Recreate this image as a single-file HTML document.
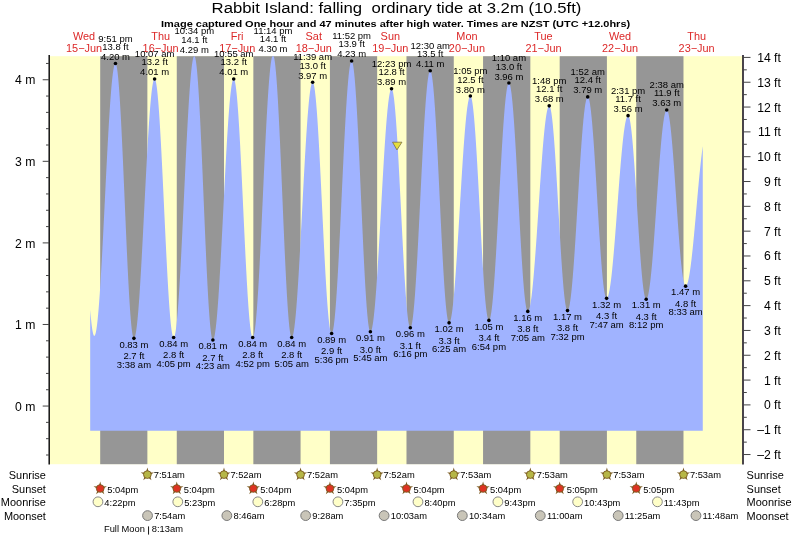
<!DOCTYPE html><html><head><meta charset="utf-8"><style>html,body{margin:0;padding:0;background:#fff;}svg{display:block;will-change:transform;}text{font-family:"Liberation Sans",sans-serif;}</style></head><body>
<svg width="793" height="537" viewBox="0 0 793 537">
<rect x="0" y="0" width="793" height="537" fill="#fff"/>
<rect x="49.2" y="56.2" width="693.8" height="408.0" fill="#ffffc8"/>
<rect x="100.20" y="56.2" width="47.17" height="408.0" fill="#969696"/>
<rect x="176.77" y="56.2" width="47.22" height="408.0" fill="#969696"/>
<rect x="253.35" y="56.2" width="47.22" height="408.0" fill="#969696"/>
<rect x="329.92" y="56.2" width="47.22" height="408.0" fill="#969696"/>
<rect x="406.49" y="56.2" width="47.27" height="408.0" fill="#969696"/>
<rect x="483.06" y="56.2" width="47.27" height="408.0" fill="#969696"/>
<rect x="559.69" y="56.2" width="47.22" height="408.0" fill="#969696"/>
<rect x="636.26" y="56.2" width="47.22" height="408.0" fill="#969696"/>
<polygon fill="#a0b3ff" points="90.19,430.8 90.19,309.76 90.46,312.94 90.73,315.92 90.99,318.72 91.26,321.32 91.52,323.72 91.79,325.91 92.05,327.89 92.32,329.66 92.59,331.21 92.85,332.55 93.12,333.66 93.38,334.55 93.65,335.22 93.92,335.66 94.18,335.87 94.45,335.86 94.71,335.64 94.98,335.20 95.25,334.55 95.51,333.70 95.78,332.63 96.04,331.36 96.31,329.88 96.57,328.19 96.84,326.31 97.11,324.23 97.37,321.96 97.64,319.50 97.90,316.85 98.17,314.02 98.44,311.00 98.70,307.82 98.97,304.47 99.23,300.95 99.50,297.28 99.77,293.45 100.03,289.48 100.30,285.37 100.56,281.12 100.83,276.75 101.09,272.26 101.36,267.66 101.63,262.95 101.89,258.14 102.16,253.24 102.42,248.25 102.69,243.19 102.96,238.06 103.22,232.88 103.49,227.64 103.75,222.36 104.02,217.04 104.29,211.69 104.55,206.33 104.82,200.96 105.08,195.58 105.35,190.21 105.61,184.86 105.88,179.52 106.15,174.22 106.41,168.96 106.68,163.75 106.94,158.59 107.21,153.50 107.48,148.48 107.74,143.54 108.01,138.68 108.27,133.92 108.54,129.27 108.80,124.72 109.07,120.29 109.34,115.98 109.60,111.81 109.87,107.77 110.13,103.87 110.40,100.12 110.67,96.53 110.93,93.10 111.20,89.83 111.46,86.74 111.73,83.82 112.00,81.08 112.26,78.53 112.53,76.16 112.79,73.99 113.06,72.01 113.32,70.24 113.59,68.66 113.86,67.29 114.12,66.12 114.39,65.16 114.65,64.41 114.92,63.88 115.19,63.55 115.45,63.44 115.72,63.56 115.98,63.98 116.25,64.67 116.52,65.64 116.78,66.89 117.05,68.41 117.31,70.20 117.58,72.26 117.84,74.59 118.11,77.17 118.38,80.01 118.64,83.09 118.91,86.42 119.17,89.98 119.44,93.77 119.71,97.77 119.97,101.99 120.24,106.41 120.50,111.03 120.77,115.83 121.04,120.80 121.30,125.94 121.57,131.23 121.83,136.66 122.10,142.23 122.36,147.91 122.63,153.71 122.90,159.60 123.16,165.57 123.43,171.62 123.69,177.73 123.96,183.88 124.23,190.07 124.49,196.29 124.76,202.51 125.02,208.72 125.29,214.93 125.56,221.10 125.82,227.23 126.09,233.31 126.35,239.32 126.62,245.25 126.88,251.10 127.15,256.83 127.42,262.46 127.68,267.96 127.95,273.32 128.21,278.53 128.48,283.58 128.75,288.47 129.01,293.17 129.28,297.69 129.54,302.00 129.81,306.11 130.07,310.01 130.34,313.68 130.61,317.12 130.87,320.32 131.14,323.28 131.40,325.98 131.67,328.43 131.94,330.62 132.20,332.54 132.47,334.20 132.73,335.58 133.00,336.68 133.27,337.51 133.53,338.05 133.80,338.32 134.06,338.31 134.33,338.09 134.59,337.65 134.86,337.00 135.13,336.15 135.39,335.09 135.66,333.82 135.92,332.35 136.19,330.67 136.46,328.80 136.72,326.73 136.99,324.47 137.25,322.02 137.52,319.38 137.79,316.56 138.05,313.57 138.32,310.41 138.58,307.08 138.85,303.59 139.11,299.94 139.38,296.15 139.65,292.22 139.91,288.14 140.18,283.94 140.44,279.62 140.71,275.18 140.98,270.63 141.24,265.98 141.51,261.23 141.77,256.41 142.04,251.50 142.31,246.52 142.57,241.48 142.84,236.39 143.10,231.25 143.37,226.08 143.63,220.88 143.90,215.65 144.17,210.42 144.43,205.18 144.70,199.95 144.96,194.73 145.23,189.54 145.50,184.38 145.76,179.25 146.03,174.18 146.29,169.16 146.56,164.20 146.83,159.32 147.09,154.51 147.36,149.80 147.62,145.18 147.89,140.67 148.15,136.26 148.42,131.98 148.69,127.82 148.95,123.79 149.22,119.90 149.48,116.15 149.75,112.55 150.02,109.11 150.28,105.84 150.55,102.73 150.81,99.79 151.08,97.03 151.34,94.46 151.61,92.07 151.88,89.87 152.14,87.86 152.41,86.05 152.67,84.44 152.94,83.03 153.21,81.83 153.47,80.83 153.74,80.04 154.00,79.46 154.27,79.10 154.54,78.94 154.80,79.01 155.07,79.32 155.33,79.88 155.60,80.69 155.86,81.74 156.13,83.04 156.40,84.58 156.66,86.36 156.93,88.37 157.19,90.61 157.46,93.08 157.73,95.77 157.99,98.67 158.26,101.79 158.52,105.11 158.79,108.63 159.06,112.35 159.32,116.24 159.59,120.32 159.85,124.56 160.12,128.97 160.38,133.52 160.65,138.22 160.92,143.06 161.18,148.02 161.45,153.10 161.71,158.28 161.98,163.56 162.25,168.92 162.51,174.36 162.78,179.87 163.04,185.43 163.31,191.04 163.58,196.67 163.84,202.33 164.11,208.00 164.37,213.68 164.64,219.34 164.90,224.98 165.17,230.58 165.44,236.15 165.70,241.66 165.97,247.10 166.23,252.48 166.50,257.76 166.77,262.95 167.03,268.04 167.30,273.01 167.56,277.86 167.83,282.57 168.10,287.14 168.36,291.55 168.63,295.81 168.89,299.90 169.16,303.81 169.42,307.54 169.69,311.07 169.96,314.41 170.22,317.54 170.49,320.47 170.75,323.18 171.02,325.66 171.29,327.92 171.55,329.95 171.82,331.75 172.08,333.31 172.35,334.62 172.61,335.70 172.88,336.52 173.15,337.11 173.41,337.44 173.68,337.52 173.94,337.37 174.21,336.99 174.48,336.38 174.74,335.55 175.01,334.48 175.27,333.20 175.54,331.69 175.81,329.96 176.07,328.01 176.34,325.85 176.60,323.48 176.87,320.90 177.13,318.12 177.40,315.14 177.67,311.97 177.93,308.62 178.20,305.07 178.46,301.36 178.73,297.47 179.00,293.42 179.26,289.21 179.53,284.85 179.79,280.35 180.06,275.71 180.33,270.94 180.59,266.05 180.86,261.05 181.12,255.94 181.39,250.74 181.65,245.45 181.92,240.08 182.19,234.64 182.45,229.13 182.72,223.58 182.98,217.98 183.25,212.35 183.52,206.69 183.78,201.01 184.05,195.33 184.31,189.65 184.58,183.99 184.85,178.34 185.11,172.72 185.38,167.15 185.64,161.62 185.91,156.15 186.17,150.74 186.44,145.41 186.71,140.16 186.97,135.01 187.24,129.96 187.50,125.01 187.77,120.19 188.04,115.48 188.30,110.91 188.57,106.48 188.83,102.20 189.10,98.07 189.37,94.11 189.63,90.31 189.90,86.68 190.16,83.24 190.43,79.97 190.69,76.90 190.96,74.03 191.23,71.35 191.49,68.88 191.76,66.62 192.02,64.57 192.29,62.74 192.56,61.12 192.82,59.73 193.09,58.56 193.35,57.61 193.62,56.89 193.88,56.40 194.15,56.20 194.42,56.20 194.68,56.36 194.95,56.89 195.21,57.71 195.48,58.82 195.75,60.20 196.01,61.87 196.28,63.81 196.54,66.02 196.81,68.50 197.08,71.25 197.34,74.25 197.61,77.50 197.87,80.99 198.14,84.72 198.40,88.68 198.67,92.87 198.94,97.26 199.20,101.86 199.47,106.65 199.73,111.63 200.00,116.79 200.27,122.11 200.53,127.58 200.80,133.20 201.06,138.94 201.33,144.81 201.60,150.78 201.86,156.85 202.13,163.01 202.39,169.23 202.66,175.51 202.92,181.84 203.19,188.20 203.46,194.58 203.72,200.97 203.99,207.35 204.25,213.72 204.52,220.05 204.79,226.34 205.05,232.57 205.32,238.72 205.58,244.80 205.85,250.78 206.12,256.66 206.38,262.42 206.65,268.04 206.91,273.53 207.18,278.86 207.44,284.03 207.71,289.02 207.98,293.83 208.24,298.45 208.51,302.86 208.77,307.06 209.04,311.04 209.31,314.79 209.57,318.30 209.84,321.57 210.10,324.59 210.37,327.35 210.64,329.86 210.90,332.09 211.17,334.05 211.43,335.74 211.70,337.15 211.96,338.28 212.23,339.12 212.50,339.68 212.76,339.95 213.03,339.94 213.29,339.72 213.56,339.29 213.83,338.65 214.09,337.80 214.36,336.75 214.62,335.49 214.89,334.03 215.15,332.37 215.42,330.51 215.69,328.46 215.95,326.22 216.22,323.79 216.48,321.18 216.75,318.38 217.02,315.41 217.28,312.28 217.55,308.97 217.81,305.51 218.08,301.89 218.35,298.13 218.61,294.22 218.88,290.18 219.14,286.00 219.41,281.71 219.67,277.29 219.94,272.77 220.21,268.15 220.47,263.43 220.74,258.63 221.00,253.75 221.27,248.79 221.54,243.77 221.80,238.70 222.07,233.58 222.33,228.42 222.60,223.24 222.87,218.03 223.13,212.80 223.40,207.57 223.66,202.34 223.93,197.13 224.19,191.93 224.46,186.77 224.73,181.64 224.99,176.55 225.26,171.52 225.52,166.54 225.79,161.64 226.06,156.81 226.32,152.07 226.59,147.42 226.85,142.87 227.12,138.43 227.39,134.10 227.65,129.89 227.92,125.81 228.18,121.86 228.45,118.05 228.71,114.40 228.98,110.89 229.25,107.54 229.51,104.36 229.78,101.34 230.04,98.50 230.31,95.83 230.58,93.35 230.84,91.06 231.11,88.95 231.37,87.04 231.64,85.32 231.91,83.81 232.17,82.49 232.44,81.38 232.70,80.48 232.97,79.78 233.23,79.29 233.50,79.01 233.77,78.94 234.03,79.10 234.30,79.52 234.56,80.18 234.83,81.09 235.10,82.25 235.36,83.65 235.63,85.30 235.89,87.18 236.16,89.29 236.42,91.64 236.69,94.21 236.96,97.00 237.22,100.01 237.49,103.23 237.75,106.65 238.02,110.26 238.29,114.07 238.55,118.06 238.82,122.22 239.08,126.55 239.35,131.04 239.62,135.68 239.88,140.46 240.15,145.36 240.41,150.39 240.68,155.54 240.94,160.78 241.21,166.12 241.48,171.54 241.74,177.02 242.01,182.57 242.27,188.17 242.54,193.81 242.81,199.48 243.07,205.16 243.34,210.85 243.60,216.53 243.87,222.20 244.14,227.84 244.40,233.44 244.67,238.99 244.93,244.49 245.20,249.91 245.46,255.26 245.73,260.51 246.00,265.66 246.26,270.70 246.53,275.62 246.79,280.41 247.06,285.06 247.33,289.56 247.59,293.90 247.86,298.07 248.12,302.08 248.39,305.90 248.66,309.53 248.92,312.97 249.19,316.20 249.45,319.22 249.72,322.03 249.98,324.62 250.25,326.99 250.52,329.12 250.78,331.02 251.05,332.68 251.31,334.11 251.58,335.28 251.85,336.22 252.11,336.90 252.38,337.33 252.64,337.52 252.91,337.46 253.18,337.16 253.44,336.62 253.71,335.84 253.97,334.83 254.24,333.59 254.50,332.11 254.77,330.40 255.04,328.47 255.30,326.31 255.57,323.94 255.83,321.35 256.10,318.54 256.37,315.53 256.63,312.32 256.90,308.92 257.16,305.32 257.43,301.54 257.69,297.58 257.96,293.45 258.23,289.15 258.49,284.70 258.76,280.10 259.02,275.36 259.29,270.49 259.56,265.49 259.82,260.37 260.09,255.14 260.35,249.82 260.62,244.40 260.89,238.91 261.15,233.34 261.42,227.71 261.68,222.03 261.95,216.30 262.21,210.54 262.48,204.75 262.75,198.96 263.01,193.15 263.28,187.36 263.54,181.57 263.81,175.82 264.08,170.09 264.34,164.42 264.61,158.79 264.87,153.23 265.14,147.75 265.41,142.34 265.67,137.03 265.94,131.82 266.20,126.71 266.47,121.73 266.73,116.87 267.00,112.14 267.27,107.56 267.53,103.13 267.80,98.85 268.06,94.74 268.33,90.80 268.60,87.04 268.86,83.47 269.13,80.09 269.39,76.90 269.66,73.91 269.93,71.14 270.19,68.57 270.46,66.22 270.72,64.09 270.99,62.18 271.25,60.51 271.52,59.06 271.79,57.84 272.05,56.86 272.32,56.20 272.58,56.20 272.85,56.20 273.12,56.20 273.38,56.20 273.65,56.20 273.91,56.87 274.18,57.96 274.45,59.32 274.71,60.96 274.98,62.86 275.24,65.04 275.51,67.48 275.77,70.18 276.04,73.13 276.31,76.32 276.57,79.76 276.84,83.43 277.10,87.33 277.37,91.44 277.64,95.77 277.90,100.29 278.17,105.01 278.43,109.92 278.70,114.99 278.96,120.23 279.23,125.62 279.50,131.15 279.76,136.82 280.03,142.60 280.29,148.49 280.56,154.48 280.83,160.55 281.09,166.69 281.36,172.89 281.62,179.14 281.89,185.42 282.16,191.73 282.42,198.04 282.69,204.36 282.95,210.65 283.22,216.92 283.48,223.14 283.75,229.32 284.02,235.42 284.28,241.45 284.55,247.39 284.81,253.23 285.08,258.95 285.35,264.54 285.61,270.01 285.88,275.32 286.14,280.47 286.41,285.46 286.68,290.27 286.94,294.89 287.21,299.31 287.47,303.53 287.74,307.53 288.00,311.31 288.27,314.86 288.54,318.18 288.80,321.24 289.07,324.06 289.33,326.63 289.60,328.93 289.87,330.97 290.13,332.73 290.40,334.23 290.66,335.45 290.93,336.39 291.20,337.05 291.46,337.43 291.73,337.52 291.99,337.39 292.26,337.05 292.52,336.52 292.79,335.78 293.06,334.84 293.32,333.70 293.59,332.36 293.85,330.83 294.12,329.11 294.39,327.20 294.65,325.10 294.92,322.82 295.18,320.36 295.45,317.72 295.72,314.91 295.98,311.94 296.25,308.80 296.51,305.50 296.78,302.06 297.04,298.46 297.31,294.73 297.58,290.86 297.84,286.86 298.11,282.74 298.37,278.51 298.64,274.16 298.91,269.72 299.17,265.18 299.44,260.55 299.70,255.83 299.97,251.05 300.23,246.20 300.50,241.30 300.77,236.34 301.03,231.34 301.30,226.31 301.56,221.25 301.83,216.17 302.10,211.08 302.36,205.99 302.63,200.91 302.89,195.84 303.16,190.80 303.43,185.78 303.69,180.80 303.96,175.87 304.22,170.99 304.49,166.18 304.75,161.43 305.02,156.76 305.29,152.18 305.55,147.68 305.82,143.29 306.08,139.00 306.35,134.82 306.62,130.77 306.88,126.83 307.15,123.04 307.41,119.37 307.68,115.86 307.95,112.49 308.21,109.27 308.48,106.22 308.74,103.33 309.01,100.61 309.27,98.07 309.54,95.70 309.81,93.51 310.07,91.51 310.34,89.70 310.60,88.07 310.87,86.64 311.14,85.41 311.40,84.38 311.67,83.54 311.93,82.90 312.20,82.47 312.47,82.24 312.73,82.21 313.00,82.42 313.26,82.87 313.53,83.57 313.79,84.50 314.06,85.67 314.33,87.08 314.59,88.73 314.86,90.60 315.12,92.70 315.39,95.02 315.66,97.57 315.92,100.32 316.19,103.28 316.45,106.45 316.72,109.81 316.99,113.36 317.25,117.10 317.52,121.01 317.78,125.09 318.05,129.32 318.31,133.71 318.58,138.25 318.85,142.92 319.11,147.71 319.38,152.62 319.64,157.64 319.91,162.75 320.18,167.95 320.44,173.23 320.71,178.58 320.97,183.98 321.24,189.43 321.50,194.91 321.77,200.42 322.04,205.94 322.30,211.47 322.57,216.99 322.83,222.49 323.10,227.97 323.37,233.40 323.63,238.79 323.90,244.11 324.16,249.37 324.43,254.54 324.70,259.63 324.96,264.61 325.23,269.48 325.49,274.24 325.76,278.86 326.02,283.35 326.29,287.69 326.56,291.88 326.82,295.91 327.09,299.76 327.35,303.44 327.62,306.93 327.89,310.23 328.15,313.33 328.42,316.23 328.68,318.92 328.95,321.39 329.22,323.64 329.48,325.67 329.75,327.47 330.01,329.04 330.28,330.37 330.54,331.47 330.81,332.33 331.08,332.94 331.34,333.32 331.61,333.45 331.87,333.34 332.14,332.99 332.41,332.41 332.67,331.59 332.94,330.53 333.20,329.25 333.47,327.73 333.74,325.99 334.00,324.02 334.27,321.82 334.53,319.42 334.80,316.79 335.06,313.96 335.33,310.93 335.60,307.70 335.86,304.27 336.13,300.66 336.39,296.87 336.66,292.90 336.93,288.77 337.19,284.47 337.46,280.03 337.72,275.44 337.99,270.71 338.26,265.86 338.52,260.88 338.79,255.80 339.05,250.61 339.32,245.33 339.58,239.96 339.85,234.52 340.12,229.02 340.38,223.46 340.65,217.85 340.91,212.21 341.18,206.54 341.45,200.86 341.71,195.17 341.98,189.48 342.24,183.81 342.51,178.16 342.77,172.54 343.04,166.97 343.31,161.45 343.57,155.99 343.84,150.60 344.10,145.30 344.37,140.08 344.64,134.97 344.90,129.96 345.17,125.07 345.43,120.31 345.70,115.68 345.97,111.19 346.23,106.85 346.50,102.68 346.76,98.66 347.03,94.82 347.29,91.16 347.56,87.68 347.83,84.39 348.09,81.30 348.36,78.41 348.62,75.73 348.89,73.26 349.16,71.01 349.42,68.98 349.69,67.17 349.95,65.59 350.22,64.24 350.49,63.12 350.75,62.23 351.02,61.58 351.28,61.17 351.55,60.99 351.81,61.07 352.08,61.40 352.35,62.01 352.61,62.88 352.88,64.01 353.14,65.41 353.41,67.07 353.68,68.98 353.94,71.15 354.21,73.56 354.47,76.22 354.74,79.11 355.01,82.24 355.27,85.59 355.54,89.16 355.80,92.94 356.07,96.93 356.33,101.12 356.60,105.49 356.87,110.05 357.13,114.77 357.40,119.66 357.66,124.70 357.93,129.88 358.20,135.19 358.46,140.63 358.73,146.17 358.99,151.82 359.26,157.55 359.53,163.36 359.79,169.23 360.06,175.16 360.32,181.13 360.59,187.13 360.85,193.15 361.12,199.17 361.39,205.19 361.65,211.20 361.92,217.17 362.18,223.10 362.45,228.98 362.72,234.79 362.98,240.53 363.25,246.18 363.51,251.74 363.78,257.18 364.04,262.50 364.31,267.69 364.58,272.75 364.84,277.65 365.11,282.38 365.37,286.95 365.64,291.34 365.91,295.54 366.17,299.55 366.44,303.35 366.70,306.94 366.97,310.31 367.24,313.45 367.50,316.37 367.77,319.04 368.03,321.47 368.30,323.66 368.56,325.59 368.83,327.27 369.10,328.69 369.36,329.84 369.63,330.74 369.89,331.36 370.16,331.72 370.43,331.81 370.69,331.69 370.96,331.38 371.22,330.87 371.49,330.18 371.76,329.30 372.02,328.24 372.29,327.00 372.55,325.57 372.82,323.96 373.08,322.18 373.35,320.22 373.62,318.09 373.88,315.79 374.15,313.32 374.41,310.70 374.68,307.92 374.95,304.99 375.21,301.91 375.48,298.69 375.74,295.33 376.01,291.84 376.28,288.22 376.54,284.48 376.81,280.62 377.07,276.66 377.34,272.59 377.60,268.42 377.87,264.16 378.14,259.82 378.40,255.41 378.67,250.92 378.93,246.37 379.20,241.76 379.47,237.10 379.73,232.40 380.00,227.67 380.26,222.91 380.53,218.13 380.80,213.34 381.06,208.54 381.33,203.75 381.59,198.97 381.86,194.20 382.12,189.46 382.39,184.75 382.66,180.08 382.92,175.46 383.19,170.89 383.45,166.38 383.72,161.95 383.99,157.58 384.25,153.30 384.52,149.11 384.78,145.01 385.05,141.02 385.31,137.13 385.58,133.36 385.85,129.70 386.11,126.17 386.38,122.78 386.64,119.52 386.91,116.40 387.18,113.42 387.44,110.60 387.71,107.93 387.97,105.43 388.24,103.08 388.51,100.90 388.77,98.90 389.04,97.06 389.30,95.40 389.57,93.93 389.83,92.63 390.10,91.51 390.37,90.58 390.63,89.84 390.90,89.29 391.16,88.92 391.43,88.74 391.70,88.76 391.96,89.01 392.23,89.50 392.49,90.22 392.76,91.18 393.03,92.36 393.29,93.78 393.56,95.42 393.82,97.29 394.09,99.37 394.35,101.68 394.62,104.19 394.89,106.91 395.15,109.83 395.42,112.94 395.68,116.24 395.95,119.73 396.22,123.39 396.48,127.22 396.75,131.20 397.01,135.35 397.28,139.63 397.55,144.05 397.81,148.60 398.08,153.27 398.34,158.04 398.61,162.92 398.87,167.88 399.14,172.92 399.41,178.04 399.67,183.21 399.94,188.43 400.20,193.70 400.47,198.99 400.74,204.30 401.00,209.61 401.27,214.93 401.53,220.23 401.80,225.51 402.07,230.75 402.33,235.95 402.60,241.09 402.86,246.17 403.13,251.17 403.39,256.09 403.66,260.92 403.93,265.64 404.19,270.24 404.46,274.72 404.72,279.08 404.99,283.29 405.26,287.35 405.52,291.26 405.79,295.00 406.05,298.57 406.32,301.96 406.58,305.16 406.85,308.18 407.12,310.99 407.38,313.60 407.65,316.01 407.91,318.20 408.18,320.17 408.45,321.92 408.71,323.45 408.98,324.75 409.24,325.81 409.51,326.65 409.78,327.25 410.04,327.61 410.31,327.74 410.57,327.63 410.84,327.30 411.10,326.75 411.37,325.97 411.64,324.96 411.90,323.73 412.17,322.29 412.43,320.62 412.70,318.75 412.97,316.66 413.23,314.36 413.50,311.87 413.76,309.17 414.03,306.28 414.30,303.20 414.56,299.94 414.83,296.50 415.09,292.89 415.36,289.11 415.62,285.17 415.89,281.09 416.16,276.86 416.42,272.49 416.69,267.99 416.95,263.37 417.22,258.64 417.49,253.81 417.75,248.87 418.02,243.85 418.28,238.75 418.55,233.59 418.82,228.36 419.08,223.08 419.35,217.76 419.61,212.40 419.88,207.02 420.14,201.63 420.41,196.24 420.68,190.85 420.94,185.47 421.21,180.12 421.47,174.80 421.74,169.53 422.01,164.30 422.27,159.14 422.54,154.05 422.80,149.04 423.07,144.12 423.34,139.30 423.60,134.58 423.87,129.98 424.13,125.50 424.40,121.14 424.66,116.93 424.93,112.86 425.20,108.94 425.46,105.19 425.73,101.59 425.99,98.18 426.26,94.94 426.53,91.88 426.79,89.01 427.06,86.34 427.32,83.86 427.59,81.59 427.85,79.53 428.12,77.68 428.39,76.04 428.65,74.62 428.92,73.42 429.18,72.44 429.45,71.69 429.72,71.16 429.98,70.86 430.25,70.78 430.51,70.94 430.78,71.35 431.05,72.01 431.31,72.91 431.58,74.05 431.84,75.43 432.11,77.05 432.37,78.90 432.64,80.99 432.91,83.30 433.17,85.83 433.44,88.58 433.70,91.55 433.97,94.72 434.24,98.08 434.50,101.65 434.77,105.40 435.03,109.32 435.30,113.42 435.57,117.68 435.83,122.10 436.10,126.66 436.36,131.36 436.63,136.19 436.89,141.14 437.16,146.19 437.43,151.35 437.69,156.59 437.96,161.92 438.22,167.31 438.49,172.76 438.76,178.25 439.02,183.78 439.29,189.34 439.55,194.91 439.82,200.49 440.09,206.06 440.35,211.61 440.62,217.13 440.88,222.61 441.15,228.05 441.41,233.42 441.68,238.71 441.95,243.93 442.21,249.06 442.48,254.08 442.74,258.99 443.01,263.78 443.28,268.43 443.54,272.95 443.81,277.32 444.07,281.53 444.34,285.57 444.61,289.44 444.87,293.13 445.14,296.63 445.40,299.94 445.67,303.04 445.93,305.94 446.20,308.62 446.47,311.08 446.73,313.32 447.00,315.34 447.26,317.12 447.53,318.66 447.80,319.96 448.06,321.03 448.33,321.85 448.59,322.43 448.86,322.76 449.12,322.84 449.39,322.73 449.66,322.44 449.92,321.97 450.19,321.33 450.45,320.52 450.72,319.54 450.99,318.39 451.25,317.07 451.52,315.59 451.78,313.94 452.05,312.13 452.32,310.16 452.58,308.04 452.85,305.76 453.11,303.34 453.38,300.77 453.64,298.06 453.91,295.21 454.18,292.23 454.44,289.13 454.71,285.90 454.97,282.55 455.24,279.09 455.51,275.53 455.77,271.86 456.04,268.09 456.30,264.24 456.57,260.30 456.84,256.28 457.10,252.19 457.37,248.03 457.63,243.82 457.90,239.55 458.16,235.23 458.43,230.88 458.70,226.49 458.96,222.07 459.23,217.64 459.49,213.19 459.76,208.74 460.03,204.29 460.29,199.85 460.56,195.42 460.82,191.01 461.09,186.63 461.36,182.29 461.62,177.99 461.89,173.74 462.15,169.54 462.42,165.40 462.68,161.34 462.95,157.34 463.22,153.43 463.48,149.60 463.75,145.87 464.01,142.23 464.28,138.70 464.55,135.27 464.81,131.96 465.08,128.77 465.34,125.71 465.61,122.77 465.88,119.97 466.14,117.30 466.41,114.78 466.67,112.40 466.94,110.18 467.20,108.10 467.47,106.18 467.74,104.43 468.00,102.83 468.27,101.40 468.53,100.13 468.80,99.03 469.07,98.11 469.33,97.35 469.60,96.77 469.86,96.36 470.13,96.13 470.39,96.07 470.66,96.22 470.93,96.59 471.19,97.20 471.46,98.03 471.72,99.08 471.99,100.35 472.26,101.84 472.52,103.55 472.79,105.46 473.05,107.59 473.32,109.92 473.59,112.45 473.85,115.17 474.12,118.08 474.38,121.18 474.65,124.45 474.91,127.89 475.18,131.49 475.45,135.25 475.71,139.16 475.98,143.20 476.24,147.38 476.51,151.68 476.78,156.10 477.04,160.62 477.31,165.24 477.57,169.94 477.84,174.72 478.11,179.57 478.37,184.48 478.64,189.44 478.90,194.43 479.17,199.46 479.43,204.50 479.70,209.54 479.97,214.59 480.23,219.62 480.50,224.63 480.76,229.61 481.03,234.54 481.30,239.42 481.56,244.23 481.83,248.98 482.09,253.64 482.36,258.21 482.63,262.67 482.89,267.03 483.16,271.27 483.42,275.38 483.69,279.35 483.95,283.18 484.22,286.86 484.49,290.38 484.75,293.73 485.02,296.91 485.28,299.91 485.55,302.73 485.82,305.35 486.08,307.78 486.35,310.00 486.61,312.02 486.88,313.83 487.15,315.42 487.41,316.80 487.68,317.96 487.94,318.89 488.21,319.61 488.47,320.09 488.74,320.35 489.01,320.38 489.27,320.20 489.54,319.82 489.80,319.23 490.07,318.43 490.34,317.43 490.60,316.23 490.87,314.83 491.13,313.23 491.40,311.44 491.66,309.45 491.93,307.28 492.20,304.92 492.46,302.38 492.73,299.67 492.99,296.79 493.26,293.74 493.53,290.53 493.79,287.16 494.06,283.65 494.32,279.99 494.59,276.19 494.86,272.27 495.12,268.22 495.39,264.06 495.65,259.79 495.92,255.41 496.18,250.95 496.45,246.39 496.72,241.76 496.98,237.06 497.25,232.30 497.51,227.48 497.78,222.62 498.05,217.72 498.31,212.80 498.58,207.85 498.84,202.89 499.11,197.94 499.38,192.99 499.64,188.05 499.91,183.14 500.17,178.26 500.44,173.42 500.70,168.63 500.97,163.90 501.24,159.23 501.50,154.64 501.77,150.13 502.03,145.71 502.30,141.39 502.57,137.17 502.83,133.07 503.10,129.08 503.36,125.23 503.63,121.50 503.90,117.92 504.16,114.48 504.43,111.19 504.69,108.07 504.96,105.10 505.22,102.31 505.49,99.68 505.76,97.24 506.02,94.98 506.29,92.90 506.55,91.02 506.82,89.32 507.09,87.83 507.35,86.53 507.62,85.43 507.88,84.54 508.15,83.85 508.42,83.36 508.68,83.09 508.95,83.02 509.21,83.16 509.48,83.53 509.74,84.13 510.01,84.94 510.28,85.98 510.54,87.23 510.81,88.70 511.07,90.38 511.34,92.27 511.61,94.36 511.87,96.66 512.14,99.15 512.40,101.83 512.67,104.71 512.93,107.76 513.20,110.99 513.47,114.38 513.73,117.94 514.00,121.65 514.26,125.52 514.53,129.52 514.80,133.65 515.06,137.91 515.33,142.29 515.59,146.77 515.86,151.35 516.13,156.02 516.39,160.78 516.66,165.60 516.92,170.48 517.19,175.42 517.45,180.40 517.72,185.41 517.99,190.45 518.25,195.50 518.52,200.55 518.78,205.60 519.05,210.63 519.32,215.63 519.58,220.60 519.85,225.52 520.11,230.39 520.38,235.19 520.65,239.92 520.91,244.56 521.18,249.11 521.44,253.56 521.71,257.90 521.97,262.12 522.24,266.21 522.51,270.17 522.77,273.99 523.04,277.65 523.30,281.16 523.57,284.50 523.84,287.67 524.10,290.67 524.37,293.48 524.63,296.11 524.90,298.54 525.17,300.77 525.43,302.80 525.70,304.62 525.96,306.23 526.23,307.63 526.49,308.81 526.76,309.78 527.03,310.52 527.29,311.04 527.56,311.34 527.82,311.42 528.09,311.32 528.36,311.06 528.62,310.64 528.89,310.07 529.15,309.35 529.42,308.47 529.69,307.45 529.95,306.27 530.22,304.94 530.48,303.47 530.75,301.85 531.01,300.09 531.28,298.19 531.55,296.16 531.81,293.99 532.08,291.70 532.34,289.28 532.61,286.73 532.88,284.07 533.14,281.29 533.41,278.40 533.67,275.41 533.94,272.31 534.20,269.12 534.47,265.83 534.74,262.46 535.00,259.01 535.27,255.48 535.53,251.88 535.80,248.21 536.07,244.49 536.33,240.71 536.60,236.88 536.86,233.00 537.13,229.09 537.40,225.15 537.66,221.19 537.93,217.20 538.19,213.20 538.46,209.20 538.72,205.19 538.99,201.19 539.26,197.20 539.52,193.23 539.79,189.28 540.05,185.37 540.32,181.48 540.59,177.64 540.85,173.84 541.12,170.10 541.38,166.42 541.65,162.80 541.92,159.25 542.18,155.77 542.45,152.38 542.71,149.07 542.98,145.85 543.24,142.73 543.51,139.70 543.78,136.79 544.04,133.98 544.31,131.28 544.57,128.70 544.84,126.24 545.11,123.91 545.37,121.71 545.64,119.64 545.90,117.70 546.17,115.90 546.44,114.25 546.70,112.73 546.97,111.37 547.23,110.15 547.50,109.08 547.76,108.16 548.03,107.39 548.30,106.78 548.56,106.32 548.83,106.02 549.09,105.87 549.36,105.89 549.63,106.11 549.89,106.55 550.16,107.20 550.42,108.07 550.69,109.14 550.96,110.41 551.22,111.89 551.49,113.58 551.75,115.45 552.02,117.53 552.28,119.79 552.55,122.23 552.82,124.86 553.08,127.66 553.35,130.63 553.61,133.76 553.88,137.04 554.15,140.47 554.41,144.05 554.68,147.75 554.94,151.59 555.21,155.54 555.47,159.60 555.74,163.76 556.01,168.02 556.27,172.36 556.54,176.77 556.80,181.25 557.07,185.79 557.34,190.37 557.60,194.99 557.87,199.64 558.13,204.30 558.40,208.98 558.67,213.65 558.93,218.31 559.20,222.95 559.46,227.56 559.73,232.13 559.99,236.65 560.26,241.11 560.53,245.50 560.79,249.81 561.06,254.04 561.32,258.17 561.59,262.20 561.86,266.11 562.12,269.91 562.39,273.57 562.65,277.10 562.92,280.49 563.19,283.72 563.45,286.80 563.72,289.72 563.98,292.46 564.25,295.03 564.51,297.42 564.78,299.62 565.05,301.63 565.31,303.45 565.58,305.06 565.84,306.48 566.11,307.69 566.38,308.69 566.64,309.49 566.91,310.07 567.17,310.44 567.44,310.60 567.71,310.55 567.97,310.32 568.24,309.91 568.50,309.32 568.77,308.55 569.03,307.59 569.30,306.46 569.57,305.16 569.83,303.68 570.10,302.03 570.36,300.21 570.63,298.23 570.90,296.08 571.16,293.78 571.43,291.33 571.69,288.72 571.96,285.97 572.23,283.08 572.49,280.05 572.76,276.90 573.02,273.62 573.29,270.21 573.55,266.70 573.82,263.08 574.09,259.35 574.35,255.54 574.62,251.63 574.88,247.64 575.15,243.58 575.42,239.44 575.68,235.25 575.95,231.00 576.21,226.71 576.48,222.38 576.74,218.01 577.01,213.62 577.28,209.22 577.54,204.80 577.81,200.39 578.07,195.98 578.34,191.58 578.61,187.20 578.87,182.85 579.14,178.54 579.40,174.27 579.67,170.05 579.94,165.89 580.20,161.79 580.47,157.76 580.73,153.82 581.00,149.96 581.26,146.19 581.53,142.51 581.80,138.95 582.06,135.49 582.33,132.15 582.59,128.93 582.86,125.84 583.13,122.89 583.39,120.07 583.66,117.39 583.92,114.87 584.19,112.49 584.46,110.27 584.72,108.21 584.99,106.31 585.25,104.58 585.52,103.02 585.78,101.63 586.05,100.42 586.32,99.38 586.58,98.52 586.85,97.84 587.11,97.34 587.38,97.02 587.65,96.89 587.91,96.94 588.18,97.19 588.44,97.63 588.71,98.27 588.98,99.11 589.24,100.14 589.51,101.35 589.77,102.76 590.04,104.35 590.30,106.13 590.57,108.08 590.84,110.22 591.10,112.52 591.37,114.98 591.63,117.61 591.90,120.40 592.17,123.34 592.43,126.42 592.70,129.64 592.96,133.00 593.23,136.48 593.50,140.08 593.76,143.79 594.03,147.61 594.29,151.53 594.56,155.54 594.82,159.63 595.09,163.79 595.36,168.02 595.62,172.31 595.89,176.65 596.15,181.03 596.42,185.44 596.69,189.88 596.95,194.33 597.22,198.78 597.48,203.24 597.75,207.68 598.01,212.11 598.28,216.50 598.55,220.86 598.81,225.18 599.08,229.44 599.34,233.63 599.61,237.76 599.88,241.81 600.14,245.77 600.41,249.64 600.67,253.40 600.94,257.06 601.21,260.60 601.47,264.02 601.74,267.30 602.00,270.45 602.27,273.46 602.53,276.32 602.80,279.03 603.07,281.57 603.33,283.95 603.60,286.17 603.86,288.21 604.13,290.07 604.40,291.75 604.66,293.25 604.93,294.56 605.19,295.68 605.46,296.60 605.73,297.34 605.99,297.88 606.26,298.22 606.52,298.37 606.79,298.33 607.05,298.16 607.32,297.85 607.59,297.40 607.85,296.81 608.12,296.09 608.38,295.23 608.65,294.24 608.92,293.12 609.18,291.87 609.45,290.49 609.71,288.99 609.98,287.36 610.25,285.60 610.51,283.73 610.78,281.75 611.04,279.65 611.31,277.44 611.57,275.13 611.84,272.71 612.11,270.19 612.37,267.58 612.64,264.87 612.90,262.08 613.17,259.20 613.44,256.25 613.70,253.22 613.97,250.12 614.23,246.96 614.50,243.73 614.77,240.46 615.03,237.13 615.30,233.75 615.56,230.33 615.83,226.88 616.09,223.40 616.36,219.89 616.63,216.37 616.89,212.83 617.16,209.28 617.42,205.73 617.69,202.18 617.96,198.64 618.22,195.11 618.49,191.59 618.75,188.10 619.02,184.64 619.28,181.22 619.55,177.83 619.82,174.49 620.08,171.19 620.35,167.95 620.61,164.77 620.88,161.65 621.15,158.60 621.41,155.63 621.68,152.73 621.94,149.92 622.21,147.19 622.48,144.55 622.74,142.00 623.01,139.56 623.27,137.21 623.54,134.97 623.80,132.84 624.07,130.82 624.34,128.92 624.60,127.14 624.87,125.47 625.13,123.93 625.40,122.52 625.67,121.23 625.93,120.07 626.20,119.04 626.46,118.15 626.73,117.39 627.00,116.77 627.26,116.28 627.53,115.93 627.79,115.72 628.06,115.64 628.32,115.73 628.59,116.02 628.86,116.49 629.12,117.17 629.39,118.03 629.65,119.08 629.92,120.32 630.19,121.74 630.45,123.35 630.72,125.13 630.98,127.09 631.25,129.22 631.52,131.52 631.78,133.97 632.05,136.59 632.31,139.35 632.58,142.25 632.84,145.30 633.11,148.48 633.38,151.78 633.64,155.20 633.91,158.73 634.17,162.36 634.44,166.09 634.71,169.91 634.97,173.80 635.24,177.77 635.50,181.80 635.77,185.89 636.04,190.02 636.30,194.19 636.57,198.38 636.83,202.60 637.10,206.82 637.36,211.05 637.63,215.27 637.90,219.47 638.16,223.65 638.43,227.79 638.69,231.89 638.96,235.93 639.23,239.92 639.49,243.84 639.76,247.68 640.02,251.43 640.29,255.09 640.55,258.66 640.82,262.11 641.09,265.44 641.35,268.65 641.62,271.74 641.88,274.68 642.15,277.49 642.42,280.14 642.68,282.64 642.95,284.98 643.21,287.16 643.48,289.17 643.75,291.00 644.01,292.65 644.28,294.13 644.54,295.42 644.81,296.53 645.07,297.44 645.34,298.17 645.61,298.70 645.87,299.04 646.14,299.18 646.40,299.14 646.67,298.94 646.94,298.59 647.20,298.08 647.47,297.42 647.73,296.60 648.00,295.63 648.27,294.51 648.53,293.24 648.80,291.82 649.06,290.26 649.33,288.56 649.59,286.71 649.86,284.74 650.13,282.62 650.39,280.38 650.66,278.02 650.92,275.53 651.19,272.93 651.46,270.21 651.72,267.38 651.99,264.45 652.25,261.42 652.52,258.29 652.79,255.08 653.05,251.78 653.32,248.41 653.58,244.96 653.85,241.45 654.11,237.87 654.38,234.24 654.65,230.56 654.91,226.84 655.18,223.08 655.44,219.29 655.71,215.47 655.98,211.64 656.24,207.79 656.51,203.94 656.77,200.09 657.04,196.25 657.31,192.42 657.57,188.62 657.84,184.84 658.10,181.09 658.37,177.38 658.63,173.71 658.90,170.10 659.17,166.54 659.43,163.05 659.70,159.62 659.96,156.27 660.23,153.00 660.50,149.82 660.76,146.72 661.03,143.72 661.29,140.82 661.56,138.03 661.82,135.35 662.09,132.78 662.36,130.33 662.62,128.00 662.89,125.81 663.15,123.74 663.42,121.80 663.69,120.00 663.95,118.34 664.22,116.83 664.48,115.46 664.75,114.24 665.02,113.16 665.28,112.24 665.55,111.47 665.81,110.86 666.08,110.40 666.34,110.10 666.61,109.95 666.88,109.96 667.14,110.14 667.41,110.50 667.67,111.02 667.94,111.72 668.21,112.59 668.47,113.62 668.74,114.82 669.00,116.18 669.27,117.70 669.54,119.38 669.80,121.21 670.07,123.19 670.33,125.32 670.60,127.59 670.86,130.00 671.13,132.54 671.40,135.22 671.66,138.01 671.93,140.92 672.19,143.94 672.46,147.07 672.73,150.30 672.99,153.62 673.26,157.03 673.52,160.52 673.79,164.08 674.06,167.71 674.32,171.40 674.59,175.14 674.85,178.93 675.12,182.75 675.38,186.61 675.65,190.48 675.92,194.37 676.18,198.27 676.45,202.16 676.71,206.05 676.98,209.93 677.25,213.78 677.51,217.59 677.78,221.38 678.04,225.11 678.31,228.79 678.58,232.41 678.84,235.97 679.11,239.45 679.37,242.85 679.64,246.16 679.90,249.38 680.17,252.49 680.44,255.50 680.70,258.40 680.97,261.18 681.23,263.83 681.50,266.36 681.77,268.76 682.03,271.01 682.30,273.12 682.56,275.09 682.83,276.90 683.09,278.56 683.36,280.06 683.63,281.40 683.89,282.58 684.16,283.59 684.42,284.44 684.69,285.12 684.96,285.62 685.22,285.96 685.49,286.12 685.75,286.12 686.02,285.99 686.29,285.75 686.55,285.40 686.82,284.93 687.08,284.35 687.35,283.65 687.61,282.84 687.88,281.92 688.15,280.89 688.41,279.75 688.68,278.51 688.94,277.16 689.21,275.71 689.48,274.16 689.74,272.50 690.01,270.76 690.27,268.92 690.54,266.99 690.81,264.97 691.07,262.87 691.34,260.69 691.60,258.42 691.87,256.09 692.13,253.68 692.40,251.21 692.67,248.67 692.93,246.07 693.20,243.41 693.46,240.70 693.73,237.95 694.00,235.15 694.26,232.30 694.53,229.43 694.79,226.52 695.06,223.58 695.33,220.63 695.59,217.65 695.86,214.66 696.12,211.66 696.39,208.65 696.65,205.65 696.92,202.64 697.19,199.65 697.45,196.67 697.72,193.70 697.98,190.76 698.25,187.84 698.52,184.96 698.78,182.11 699.05,179.30 699.31,176.53 699.58,173.80 699.85,171.13 700.11,168.52 700.38,165.96 700.64,163.47 700.91,161.04 701.17,158.68 701.44,156.40 701.71,154.20 701.97,152.07 702.24,150.03 702.50,148.07 702.77,146.21 702.77,430.8"/>
<line x1="49.2" y1="55.1" x2="49.2" y2="464.5" stroke="#111" stroke-width="1.5"/>
<line x1="743.0" y1="55.1" x2="743.0" y2="464.5" stroke="#2a2430" stroke-width="1.7"/>
<line x1="46.00" y1="455.00" x2="49.2" y2="455.00" stroke="#444" stroke-width="1"/>
<line x1="46.00" y1="438.68" x2="49.2" y2="438.68" stroke="#444" stroke-width="1"/>
<line x1="46.00" y1="422.37" x2="49.2" y2="422.37" stroke="#444" stroke-width="1"/>
<line x1="42.70" y1="406.05" x2="49.2" y2="406.05" stroke="#444" stroke-width="1"/>
<text x="35.3" y="410.65" font-size="12.2" text-anchor="end" fill="#000">0 m</text>
<line x1="46.00" y1="389.74" x2="49.2" y2="389.74" stroke="#444" stroke-width="1"/>
<line x1="46.00" y1="373.42" x2="49.2" y2="373.42" stroke="#444" stroke-width="1"/>
<line x1="46.00" y1="357.11" x2="49.2" y2="357.11" stroke="#444" stroke-width="1"/>
<line x1="46.00" y1="340.79" x2="49.2" y2="340.79" stroke="#444" stroke-width="1"/>
<line x1="42.70" y1="324.48" x2="49.2" y2="324.48" stroke="#444" stroke-width="1"/>
<text x="35.3" y="329.08" font-size="12.2" text-anchor="end" fill="#000">1 m</text>
<line x1="46.00" y1="308.16" x2="49.2" y2="308.16" stroke="#444" stroke-width="1"/>
<line x1="46.00" y1="291.85" x2="49.2" y2="291.85" stroke="#444" stroke-width="1"/>
<line x1="46.00" y1="275.53" x2="49.2" y2="275.53" stroke="#444" stroke-width="1"/>
<line x1="46.00" y1="259.22" x2="49.2" y2="259.22" stroke="#444" stroke-width="1"/>
<line x1="42.70" y1="242.90" x2="49.2" y2="242.90" stroke="#444" stroke-width="1"/>
<text x="35.3" y="247.50" font-size="12.2" text-anchor="end" fill="#000">2 m</text>
<line x1="46.00" y1="226.58" x2="49.2" y2="226.58" stroke="#444" stroke-width="1"/>
<line x1="46.00" y1="210.27" x2="49.2" y2="210.27" stroke="#444" stroke-width="1"/>
<line x1="46.00" y1="193.95" x2="49.2" y2="193.95" stroke="#444" stroke-width="1"/>
<line x1="46.00" y1="177.64" x2="49.2" y2="177.64" stroke="#444" stroke-width="1"/>
<line x1="42.70" y1="161.32" x2="49.2" y2="161.32" stroke="#444" stroke-width="1"/>
<text x="35.3" y="165.92" font-size="12.2" text-anchor="end" fill="#000">3 m</text>
<line x1="46.00" y1="145.01" x2="49.2" y2="145.01" stroke="#444" stroke-width="1"/>
<line x1="46.00" y1="128.69" x2="49.2" y2="128.69" stroke="#444" stroke-width="1"/>
<line x1="46.00" y1="112.38" x2="49.2" y2="112.38" stroke="#444" stroke-width="1"/>
<line x1="46.00" y1="96.06" x2="49.2" y2="96.06" stroke="#444" stroke-width="1"/>
<line x1="42.70" y1="79.75" x2="49.2" y2="79.75" stroke="#444" stroke-width="1"/>
<text x="35.3" y="84.35" font-size="12.2" text-anchor="end" fill="#000">4 m</text>
<line x1="46.00" y1="63.44" x2="49.2" y2="63.44" stroke="#444" stroke-width="1"/>
<line x1="743.0" y1="454.54" x2="750.50" y2="454.54" stroke="#444" stroke-width="1"/>
<text x="780.9" y="459.04" font-size="12.2" text-anchor="end" fill="#000">–2 ft</text>
<line x1="743.0" y1="442.13" x2="746.80" y2="442.13" stroke="#444" stroke-width="1"/>
<line x1="743.0" y1="429.72" x2="750.50" y2="429.72" stroke="#444" stroke-width="1"/>
<text x="780.9" y="434.22" font-size="12.2" text-anchor="end" fill="#000">–1 ft</text>
<line x1="743.0" y1="417.31" x2="746.80" y2="417.31" stroke="#444" stroke-width="1"/>
<line x1="743.0" y1="404.90" x2="750.50" y2="404.90" stroke="#444" stroke-width="1"/>
<text x="780.9" y="409.40" font-size="12.2" text-anchor="end" fill="#000">0 ft</text>
<line x1="743.0" y1="392.49" x2="746.80" y2="392.49" stroke="#444" stroke-width="1"/>
<line x1="743.0" y1="380.08" x2="750.50" y2="380.08" stroke="#444" stroke-width="1"/>
<text x="780.9" y="384.58" font-size="12.2" text-anchor="end" fill="#000">1 ft</text>
<line x1="743.0" y1="367.67" x2="746.80" y2="367.67" stroke="#444" stroke-width="1"/>
<line x1="743.0" y1="355.26" x2="750.50" y2="355.26" stroke="#444" stroke-width="1"/>
<text x="780.9" y="359.76" font-size="12.2" text-anchor="end" fill="#000">2 ft</text>
<line x1="743.0" y1="342.85" x2="746.80" y2="342.85" stroke="#444" stroke-width="1"/>
<line x1="743.0" y1="330.44" x2="750.50" y2="330.44" stroke="#444" stroke-width="1"/>
<text x="780.9" y="334.94" font-size="12.2" text-anchor="end" fill="#000">3 ft</text>
<line x1="743.0" y1="318.03" x2="746.80" y2="318.03" stroke="#444" stroke-width="1"/>
<line x1="743.0" y1="305.62" x2="750.50" y2="305.62" stroke="#444" stroke-width="1"/>
<text x="780.9" y="310.12" font-size="12.2" text-anchor="end" fill="#000">4 ft</text>
<line x1="743.0" y1="293.21" x2="746.80" y2="293.21" stroke="#444" stroke-width="1"/>
<line x1="743.0" y1="280.80" x2="750.50" y2="280.80" stroke="#444" stroke-width="1"/>
<text x="780.9" y="285.30" font-size="12.2" text-anchor="end" fill="#000">5 ft</text>
<line x1="743.0" y1="268.39" x2="746.80" y2="268.39" stroke="#444" stroke-width="1"/>
<line x1="743.0" y1="255.98" x2="750.50" y2="255.98" stroke="#444" stroke-width="1"/>
<text x="780.9" y="260.48" font-size="12.2" text-anchor="end" fill="#000">6 ft</text>
<line x1="743.0" y1="243.57" x2="746.80" y2="243.57" stroke="#444" stroke-width="1"/>
<line x1="743.0" y1="231.16" x2="750.50" y2="231.16" stroke="#444" stroke-width="1"/>
<text x="780.9" y="235.66" font-size="12.2" text-anchor="end" fill="#000">7 ft</text>
<line x1="743.0" y1="218.75" x2="746.80" y2="218.75" stroke="#444" stroke-width="1"/>
<line x1="743.0" y1="206.34" x2="750.50" y2="206.34" stroke="#444" stroke-width="1"/>
<text x="780.9" y="210.84" font-size="12.2" text-anchor="end" fill="#000">8 ft</text>
<line x1="743.0" y1="193.93" x2="746.80" y2="193.93" stroke="#444" stroke-width="1"/>
<line x1="743.0" y1="181.52" x2="750.50" y2="181.52" stroke="#444" stroke-width="1"/>
<text x="780.9" y="186.02" font-size="12.2" text-anchor="end" fill="#000">9 ft</text>
<line x1="743.0" y1="169.11" x2="746.80" y2="169.11" stroke="#444" stroke-width="1"/>
<line x1="743.0" y1="156.70" x2="750.50" y2="156.70" stroke="#444" stroke-width="1"/>
<text x="780.9" y="161.20" font-size="12.2" text-anchor="end" fill="#000">10 ft</text>
<line x1="743.0" y1="144.29" x2="746.80" y2="144.29" stroke="#444" stroke-width="1"/>
<line x1="743.0" y1="131.88" x2="750.50" y2="131.88" stroke="#444" stroke-width="1"/>
<text x="780.9" y="136.38" font-size="12.2" text-anchor="end" fill="#000">11 ft</text>
<line x1="743.0" y1="119.47" x2="746.80" y2="119.47" stroke="#444" stroke-width="1"/>
<line x1="743.0" y1="107.06" x2="750.50" y2="107.06" stroke="#444" stroke-width="1"/>
<text x="780.9" y="111.56" font-size="12.2" text-anchor="end" fill="#000">12 ft</text>
<line x1="743.0" y1="94.65" x2="746.80" y2="94.65" stroke="#444" stroke-width="1"/>
<line x1="743.0" y1="82.24" x2="750.50" y2="82.24" stroke="#444" stroke-width="1"/>
<text x="780.9" y="86.74" font-size="12.2" text-anchor="end" fill="#000">13 ft</text>
<line x1="743.0" y1="69.83" x2="746.80" y2="69.83" stroke="#444" stroke-width="1"/>
<line x1="743.0" y1="57.42" x2="750.50" y2="57.42" stroke="#444" stroke-width="1"/>
<text x="780.9" y="61.92" font-size="12.2" text-anchor="end" fill="#000">14 ft</text>
<text transform="translate(396.5,12.6) scale(1.131,1)" font-size="14.8" text-anchor="middle" fill="#000">Rabbit Island: falling&#160; ordinary tide at 3.2m (10.5ft)</text>
<text transform="translate(395.6,27.4) scale(1.143,1)" font-size="9.6" font-weight="bold" text-anchor="middle" fill="#000">Image captured One hour and 47 minutes after high water. Times are NZST (UTC +12.0hrs)</text>
<text transform="translate(84.04,39.8) scale(1.02,1)" font-size="10.7" text-anchor="middle" fill="#dc2828">Wed</text>
<text transform="translate(84.04,51.7) scale(1.02,1)" font-size="10.7" text-anchor="middle" fill="#dc2828">15−Jun</text>
<text transform="translate(160.61,39.8) scale(1.02,1)" font-size="10.7" text-anchor="middle" fill="#dc2828">Thu</text>
<text transform="translate(160.61,51.7) scale(1.02,1)" font-size="10.7" text-anchor="middle" fill="#dc2828">16−Jun</text>
<text transform="translate(237.18,39.8) scale(1.02,1)" font-size="10.7" text-anchor="middle" fill="#dc2828">Fri</text>
<text transform="translate(237.18,51.7) scale(1.02,1)" font-size="10.7" text-anchor="middle" fill="#dc2828">17−Jun</text>
<text transform="translate(313.75,39.8) scale(1.02,1)" font-size="10.7" text-anchor="middle" fill="#dc2828">Sat</text>
<text transform="translate(313.75,51.7) scale(1.02,1)" font-size="10.7" text-anchor="middle" fill="#dc2828">18−Jun</text>
<text transform="translate(390.32,39.8) scale(1.02,1)" font-size="10.7" text-anchor="middle" fill="#dc2828">Sun</text>
<text transform="translate(390.32,51.7) scale(1.02,1)" font-size="10.7" text-anchor="middle" fill="#dc2828">19−Jun</text>
<text transform="translate(466.90,39.8) scale(1.02,1)" font-size="10.7" text-anchor="middle" fill="#dc2828">Mon</text>
<text transform="translate(466.90,51.7) scale(1.02,1)" font-size="10.7" text-anchor="middle" fill="#dc2828">20−Jun</text>
<text transform="translate(543.47,39.8) scale(1.02,1)" font-size="10.7" text-anchor="middle" fill="#dc2828">Tue</text>
<text transform="translate(543.47,51.7) scale(1.02,1)" font-size="10.7" text-anchor="middle" fill="#dc2828">21−Jun</text>
<text transform="translate(620.04,39.8) scale(1.02,1)" font-size="10.7" text-anchor="middle" fill="#dc2828">Wed</text>
<text transform="translate(620.04,51.7) scale(1.02,1)" font-size="10.7" text-anchor="middle" fill="#dc2828">22−Jun</text>
<text transform="translate(696.61,39.8) scale(1.02,1)" font-size="10.7" text-anchor="middle" fill="#dc2828">Thu</text>
<text transform="translate(696.61,51.7) scale(1.02,1)" font-size="10.7" text-anchor="middle" fill="#dc2828">23−Jun</text>
<circle cx="115.46" cy="63.44" r="1.8" fill="#000"/>
<text transform="translate(115.46,59.94) scale(1.085,1)" font-size="8.75" text-anchor="middle" fill="#000">4.20 m</text>
<text transform="translate(115.46,49.94) scale(1.085,1)" font-size="8.75" text-anchor="middle" fill="#000">13.8 ft</text>
<text transform="translate(115.46,41.64) scale(1.085,1)" font-size="8.75" text-anchor="middle" fill="#000">9:51 pm</text>
<circle cx="133.91" cy="338.34" r="1.8" fill="#000"/>
<text transform="translate(133.91,347.64) scale(1.085,1)" font-size="8.75" text-anchor="middle" fill="#000">0.83 m</text>
<text transform="translate(133.91,359.14) scale(1.085,1)" font-size="8.75" text-anchor="middle" fill="#000">2.7 ft</text>
<text transform="translate(133.91,367.64) scale(1.085,1)" font-size="8.75" text-anchor="middle" fill="#000">3:38 am</text>
<circle cx="154.60" cy="78.93" r="1.8" fill="#000"/>
<text transform="translate(154.60,75.43) scale(1.085,1)" font-size="8.75" text-anchor="middle" fill="#000">4.01 m</text>
<text transform="translate(154.60,65.43) scale(1.085,1)" font-size="8.75" text-anchor="middle" fill="#000">13.2 ft</text>
<text transform="translate(154.60,57.13) scale(1.085,1)" font-size="8.75" text-anchor="middle" fill="#000">10:07 am</text>
<circle cx="173.64" cy="337.53" r="1.8" fill="#000"/>
<text transform="translate(173.64,346.83) scale(1.085,1)" font-size="8.75" text-anchor="middle" fill="#000">0.84 m</text>
<text transform="translate(173.64,358.33) scale(1.085,1)" font-size="8.75" text-anchor="middle" fill="#000">2.8 ft</text>
<text transform="translate(173.64,366.83) scale(1.085,1)" font-size="8.75" text-anchor="middle" fill="#000">4:05 pm</text>
<text transform="translate(194.32,52.59) scale(1.085,1)" font-size="8.75" text-anchor="middle" fill="#000">4.29 m</text>
<text transform="translate(194.32,42.59) scale(1.085,1)" font-size="8.75" text-anchor="middle" fill="#000">14.1 ft</text>
<text transform="translate(194.32,34.29) scale(1.085,1)" font-size="8.75" text-anchor="middle" fill="#000">10:34 pm</text>
<circle cx="212.88" cy="339.97" r="1.8" fill="#000"/>
<text transform="translate(212.88,349.27) scale(1.085,1)" font-size="8.75" text-anchor="middle" fill="#000">0.81 m</text>
<text transform="translate(212.88,360.77) scale(1.085,1)" font-size="8.75" text-anchor="middle" fill="#000">2.7 ft</text>
<text transform="translate(212.88,369.27) scale(1.085,1)" font-size="8.75" text-anchor="middle" fill="#000">4:23 am</text>
<circle cx="233.72" cy="78.93" r="1.8" fill="#000"/>
<text transform="translate(233.72,75.43) scale(1.085,1)" font-size="8.75" text-anchor="middle" fill="#000">4.01 m</text>
<text transform="translate(233.72,65.43) scale(1.085,1)" font-size="8.75" text-anchor="middle" fill="#000">13.2 ft</text>
<text transform="translate(233.72,57.13) scale(1.085,1)" font-size="8.75" text-anchor="middle" fill="#000">10:55 am</text>
<circle cx="252.71" cy="337.53" r="1.8" fill="#000"/>
<text transform="translate(252.71,346.83) scale(1.085,1)" font-size="8.75" text-anchor="middle" fill="#000">0.84 m</text>
<text transform="translate(252.71,358.33) scale(1.085,1)" font-size="8.75" text-anchor="middle" fill="#000">2.8 ft</text>
<text transform="translate(252.71,366.83) scale(1.085,1)" font-size="8.75" text-anchor="middle" fill="#000">4:52 pm</text>
<text transform="translate(273.02,52.40) scale(1.085,1)" font-size="8.75" text-anchor="middle" fill="#000">4.30 m</text>
<text transform="translate(273.02,42.40) scale(1.085,1)" font-size="8.75" text-anchor="middle" fill="#000">14.1 ft</text>
<text transform="translate(273.02,34.10) scale(1.085,1)" font-size="8.75" text-anchor="middle" fill="#000">11:14 pm</text>
<circle cx="291.68" cy="337.53" r="1.8" fill="#000"/>
<text transform="translate(291.68,346.83) scale(1.085,1)" font-size="8.75" text-anchor="middle" fill="#000">0.84 m</text>
<text transform="translate(291.68,358.33) scale(1.085,1)" font-size="8.75" text-anchor="middle" fill="#000">2.8 ft</text>
<text transform="translate(291.68,366.83) scale(1.085,1)" font-size="8.75" text-anchor="middle" fill="#000">5:05 am</text>
<circle cx="312.64" cy="82.20" r="1.8" fill="#000"/>
<text transform="translate(312.64,78.70) scale(1.085,1)" font-size="8.75" text-anchor="middle" fill="#000">3.97 m</text>
<text transform="translate(312.64,68.70) scale(1.085,1)" font-size="8.75" text-anchor="middle" fill="#000">13.0 ft</text>
<text transform="translate(312.64,60.40) scale(1.085,1)" font-size="8.75" text-anchor="middle" fill="#000">11:39 am</text>
<circle cx="331.62" cy="333.45" r="1.8" fill="#000"/>
<text transform="translate(331.62,342.75) scale(1.085,1)" font-size="8.75" text-anchor="middle" fill="#000">0.89 m</text>
<text transform="translate(331.62,354.25) scale(1.085,1)" font-size="8.75" text-anchor="middle" fill="#000">2.9 ft</text>
<text transform="translate(331.62,362.75) scale(1.085,1)" font-size="8.75" text-anchor="middle" fill="#000">5:36 pm</text>
<circle cx="351.61" cy="60.99" r="1.8" fill="#000"/>
<text transform="translate(351.61,57.49) scale(1.085,1)" font-size="8.75" text-anchor="middle" fill="#000">4.23 m</text>
<text transform="translate(351.61,47.49) scale(1.085,1)" font-size="8.75" text-anchor="middle" fill="#000">13.9 ft</text>
<text transform="translate(351.61,39.19) scale(1.085,1)" font-size="8.75" text-anchor="middle" fill="#000">11:52 pm</text>
<circle cx="370.38" cy="331.82" r="1.8" fill="#000"/>
<text transform="translate(370.38,341.12) scale(1.085,1)" font-size="8.75" text-anchor="middle" fill="#000">0.91 m</text>
<text transform="translate(370.38,352.62) scale(1.085,1)" font-size="8.75" text-anchor="middle" fill="#000">3.0 ft</text>
<text transform="translate(370.38,361.12) scale(1.085,1)" font-size="8.75" text-anchor="middle" fill="#000">5:45 am</text>
<circle cx="391.55" cy="88.72" r="1.8" fill="#000"/>
<text transform="translate(391.55,85.22) scale(1.085,1)" font-size="8.75" text-anchor="middle" fill="#000">3.89 m</text>
<text transform="translate(391.55,75.22) scale(1.085,1)" font-size="8.75" text-anchor="middle" fill="#000">12.8 ft</text>
<text transform="translate(391.55,66.92) scale(1.085,1)" font-size="8.75" text-anchor="middle" fill="#000">12:23 pm</text>
<circle cx="410.32" cy="327.74" r="1.8" fill="#000"/>
<text transform="translate(410.32,337.04) scale(1.085,1)" font-size="8.75" text-anchor="middle" fill="#000">0.96 m</text>
<text transform="translate(410.32,348.54) scale(1.085,1)" font-size="8.75" text-anchor="middle" fill="#000">3.1 ft</text>
<text transform="translate(410.32,357.04) scale(1.085,1)" font-size="8.75" text-anchor="middle" fill="#000">6:16 pm</text>
<circle cx="430.21" cy="70.78" r="1.8" fill="#000"/>
<text transform="translate(430.21,67.28) scale(1.085,1)" font-size="8.75" text-anchor="middle" fill="#000">4.11 m</text>
<text transform="translate(430.21,57.28) scale(1.085,1)" font-size="8.75" text-anchor="middle" fill="#000">13.5 ft</text>
<text transform="translate(430.21,48.98) scale(1.085,1)" font-size="8.75" text-anchor="middle" fill="#000">12:30 am</text>
<circle cx="449.08" cy="322.84" r="1.8" fill="#000"/>
<text transform="translate(449.08,332.14) scale(1.085,1)" font-size="8.75" text-anchor="middle" fill="#000">1.02 m</text>
<text transform="translate(449.08,343.64) scale(1.085,1)" font-size="8.75" text-anchor="middle" fill="#000">3.3 ft</text>
<text transform="translate(449.08,352.14) scale(1.085,1)" font-size="8.75" text-anchor="middle" fill="#000">6:25 am</text>
<circle cx="470.35" cy="96.06" r="1.8" fill="#000"/>
<text transform="translate(470.35,92.56) scale(1.085,1)" font-size="8.75" text-anchor="middle" fill="#000">3.80 m</text>
<text transform="translate(470.35,82.56) scale(1.085,1)" font-size="8.75" text-anchor="middle" fill="#000">12.5 ft</text>
<text transform="translate(470.35,74.27) scale(1.085,1)" font-size="8.75" text-anchor="middle" fill="#000">1:05 pm</text>
<circle cx="488.91" cy="320.40" r="1.8" fill="#000"/>
<text transform="translate(488.91,329.70) scale(1.085,1)" font-size="8.75" text-anchor="middle" fill="#000">1.05 m</text>
<text transform="translate(488.91,341.20) scale(1.085,1)" font-size="8.75" text-anchor="middle" fill="#000">3.4 ft</text>
<text transform="translate(488.91,349.70) scale(1.085,1)" font-size="8.75" text-anchor="middle" fill="#000">6:54 pm</text>
<circle cx="508.90" cy="83.01" r="1.8" fill="#000"/>
<text transform="translate(508.90,79.51) scale(1.085,1)" font-size="8.75" text-anchor="middle" fill="#000">3.96 m</text>
<text transform="translate(508.90,69.51) scale(1.085,1)" font-size="8.75" text-anchor="middle" fill="#000">13.0 ft</text>
<text transform="translate(508.90,61.21) scale(1.085,1)" font-size="8.75" text-anchor="middle" fill="#000">1:10 am</text>
<circle cx="527.78" cy="311.42" r="1.8" fill="#000"/>
<text transform="translate(527.78,320.72) scale(1.085,1)" font-size="8.75" text-anchor="middle" fill="#000">1.16 m</text>
<text transform="translate(527.78,332.22) scale(1.085,1)" font-size="8.75" text-anchor="middle" fill="#000">3.8 ft</text>
<text transform="translate(527.78,340.72) scale(1.085,1)" font-size="8.75" text-anchor="middle" fill="#000">7:05 am</text>
<circle cx="549.21" cy="105.85" r="1.8" fill="#000"/>
<text transform="translate(549.21,102.35) scale(1.085,1)" font-size="8.75" text-anchor="middle" fill="#000">3.68 m</text>
<text transform="translate(549.21,92.35) scale(1.085,1)" font-size="8.75" text-anchor="middle" fill="#000">12.1 ft</text>
<text transform="translate(549.21,84.05) scale(1.085,1)" font-size="8.75" text-anchor="middle" fill="#000">1:48 pm</text>
<circle cx="567.50" cy="310.61" r="1.8" fill="#000"/>
<text transform="translate(567.50,319.91) scale(1.085,1)" font-size="8.75" text-anchor="middle" fill="#000">1.17 m</text>
<text transform="translate(567.50,331.41) scale(1.085,1)" font-size="8.75" text-anchor="middle" fill="#000">3.8 ft</text>
<text transform="translate(567.50,339.91) scale(1.085,1)" font-size="8.75" text-anchor="middle" fill="#000">7:32 pm</text>
<circle cx="587.71" cy="96.88" r="1.8" fill="#000"/>
<text transform="translate(587.71,93.38) scale(1.085,1)" font-size="8.75" text-anchor="middle" fill="#000">3.79 m</text>
<text transform="translate(587.71,83.38) scale(1.085,1)" font-size="8.75" text-anchor="middle" fill="#000">12.4 ft</text>
<text transform="translate(587.71,75.08) scale(1.085,1)" font-size="8.75" text-anchor="middle" fill="#000">1:52 am</text>
<circle cx="606.59" cy="298.37" r="1.8" fill="#000"/>
<text transform="translate(606.59,307.67) scale(1.085,1)" font-size="8.75" text-anchor="middle" fill="#000">1.32 m</text>
<text transform="translate(606.59,319.17) scale(1.085,1)" font-size="8.75" text-anchor="middle" fill="#000">4.3 ft</text>
<text transform="translate(606.59,327.67) scale(1.085,1)" font-size="8.75" text-anchor="middle" fill="#000">7:47 am</text>
<circle cx="628.07" cy="115.64" r="1.8" fill="#000"/>
<text transform="translate(628.07,112.14) scale(1.085,1)" font-size="8.75" text-anchor="middle" fill="#000">3.56 m</text>
<text transform="translate(628.07,102.14) scale(1.085,1)" font-size="8.75" text-anchor="middle" fill="#000">11.7 ft</text>
<text transform="translate(628.07,93.84) scale(1.085,1)" font-size="8.75" text-anchor="middle" fill="#000">2:31 pm</text>
<circle cx="646.20" cy="299.19" r="1.8" fill="#000"/>
<text transform="translate(646.20,308.49) scale(1.085,1)" font-size="8.75" text-anchor="middle" fill="#000">1.31 m</text>
<text transform="translate(646.20,319.99) scale(1.085,1)" font-size="8.75" text-anchor="middle" fill="#000">4.3 ft</text>
<text transform="translate(646.20,328.49) scale(1.085,1)" font-size="8.75" text-anchor="middle" fill="#000">8:12 pm</text>
<circle cx="666.73" cy="109.93" r="1.8" fill="#000"/>
<text transform="translate(666.73,106.43) scale(1.085,1)" font-size="8.75" text-anchor="middle" fill="#000">3.63 m</text>
<text transform="translate(666.73,96.43) scale(1.085,1)" font-size="8.75" text-anchor="middle" fill="#000">11.9 ft</text>
<text transform="translate(666.73,88.13) scale(1.085,1)" font-size="8.75" text-anchor="middle" fill="#000">2:38 am</text>
<circle cx="685.60" cy="286.13" r="1.8" fill="#000"/>
<text transform="translate(685.60,295.43) scale(1.085,1)" font-size="8.75" text-anchor="middle" fill="#000">1.47 m</text>
<text transform="translate(685.60,306.93) scale(1.085,1)" font-size="8.75" text-anchor="middle" fill="#000">4.8 ft</text>
<text transform="translate(685.60,315.43) scale(1.085,1)" font-size="8.75" text-anchor="middle" fill="#000">8:33 am</text>
<polygon points="392.54,142.2 401.94,142.2 396.94,149.89999999999998" fill="#e6df3c" stroke="#6e6040" stroke-width="0.7" stroke-linejoin="round"/>
<text transform="translate(45.9,479.0) scale(1.035,1)" font-size="10.6" text-anchor="end" fill="#000">Sunrise</text>
<text transform="translate(746.6,479.0) scale(1.035,1)" font-size="10.6" text-anchor="start" fill="#000">Sunrise</text>
<text transform="translate(45.9,492.6) scale(1.035,1)" font-size="10.6" text-anchor="end" fill="#000">Sunset</text>
<text transform="translate(746.6,492.6) scale(1.035,1)" font-size="10.6" text-anchor="start" fill="#000">Sunset</text>
<text transform="translate(45.9,506.0) scale(1.035,1)" font-size="10.6" text-anchor="end" fill="#000">Moonrise</text>
<text transform="translate(746.6,506.0) scale(1.035,1)" font-size="10.6" text-anchor="start" fill="#000">Moonrise</text>
<text transform="translate(45.9,519.7) scale(1.035,1)" font-size="10.6" text-anchor="end" fill="#000">Moonset</text>
<text transform="translate(746.6,519.7) scale(1.035,1)" font-size="10.6" text-anchor="start" fill="#000">Moonset</text>
<polygon points="147.37,467.60 148.84,472.58 154.02,472.44 149.75,475.37 151.48,480.26 147.37,477.10 143.25,480.26 144.99,475.37 140.71,472.44 145.90,472.58" fill="#7a5a20"/>
<circle cx="147.37" cy="474.60" r="3.85" fill="#b6b646" stroke="#7a5a20" stroke-width="0.9"/>
<text transform="translate(153.77,477.80) scale(1.05,1)" font-size="8.9" text-anchor="start" fill="#000">7:51am</text>
<polygon points="223.99,467.60 225.46,472.58 230.65,472.44 226.37,475.37 228.11,480.26 223.99,477.10 219.88,480.26 221.61,475.37 217.34,472.44 222.52,472.58" fill="#7a5a20"/>
<circle cx="223.99" cy="474.60" r="3.85" fill="#b6b646" stroke="#7a5a20" stroke-width="0.9"/>
<text transform="translate(230.39,477.80) scale(1.05,1)" font-size="8.9" text-anchor="start" fill="#000">7:52am</text>
<polygon points="300.56,467.60 302.03,472.58 307.22,472.44 302.94,475.37 304.68,480.26 300.56,477.10 296.45,480.26 298.19,475.37 293.91,472.44 299.10,472.58" fill="#7a5a20"/>
<circle cx="300.56" cy="474.60" r="3.85" fill="#b6b646" stroke="#7a5a20" stroke-width="0.9"/>
<text transform="translate(306.96,477.80) scale(1.05,1)" font-size="8.9" text-anchor="start" fill="#000">7:52am</text>
<polygon points="377.14,467.60 378.61,472.58 383.79,472.44 379.51,475.37 381.25,480.26 377.14,477.10 373.02,480.26 374.76,475.37 370.48,472.44 375.67,472.58" fill="#7a5a20"/>
<circle cx="377.14" cy="474.60" r="3.85" fill="#b6b646" stroke="#7a5a20" stroke-width="0.9"/>
<text transform="translate(383.54,477.80) scale(1.05,1)" font-size="8.9" text-anchor="start" fill="#000">7:52am</text>
<polygon points="453.76,467.60 455.23,472.58 460.42,472.44 456.14,475.37 457.88,480.26 453.76,477.10 449.65,480.26 451.38,475.37 447.10,472.44 452.29,472.58" fill="#7a5a20"/>
<circle cx="453.76" cy="474.60" r="3.85" fill="#b6b646" stroke="#7a5a20" stroke-width="0.9"/>
<text transform="translate(460.16,477.80) scale(1.05,1)" font-size="8.9" text-anchor="start" fill="#000">7:53am</text>
<polygon points="530.33,467.60 531.80,472.58 536.99,472.44 532.71,475.37 534.45,480.26 530.33,477.10 526.22,480.26 527.96,475.37 523.68,472.44 528.86,472.58" fill="#7a5a20"/>
<circle cx="530.33" cy="474.60" r="3.85" fill="#b6b646" stroke="#7a5a20" stroke-width="0.9"/>
<text transform="translate(536.73,477.80) scale(1.05,1)" font-size="8.9" text-anchor="start" fill="#000">7:53am</text>
<polygon points="606.91,467.60 608.38,472.58 613.56,472.44 609.28,475.37 611.02,480.26 606.91,477.10 602.79,480.26 604.53,475.37 600.25,472.44 605.44,472.58" fill="#7a5a20"/>
<circle cx="606.91" cy="474.60" r="3.85" fill="#b6b646" stroke="#7a5a20" stroke-width="0.9"/>
<text transform="translate(613.31,477.80) scale(1.05,1)" font-size="8.9" text-anchor="start" fill="#000">7:53am</text>
<polygon points="683.48,467.60 684.95,472.58 690.14,472.44 685.86,475.37 687.59,480.26 683.48,477.10 679.36,480.26 681.10,475.37 676.82,472.44 682.01,472.58" fill="#7a5a20"/>
<circle cx="683.48" cy="474.60" r="3.85" fill="#b6b646" stroke="#7a5a20" stroke-width="0.9"/>
<text transform="translate(689.88,477.80) scale(1.05,1)" font-size="8.9" text-anchor="start" fill="#000">7:53am</text>
<polygon points="100.20,481.50 101.67,486.48 106.86,486.34 102.58,489.27 104.32,494.16 100.20,491.00 96.09,494.16 97.82,489.27 93.54,486.34 98.73,486.48" fill="#7a5a20"/>
<circle cx="100.20" cy="488.50" r="3.85" fill="#dd3322" stroke="#7a5a20" stroke-width="0.9"/>
<text transform="translate(107.20,492.50) scale(1.05,1)" font-size="8.9" text-anchor="start" fill="#000">5:04pm</text>
<polygon points="176.77,481.50 178.24,486.48 183.43,486.34 179.15,489.27 180.89,494.16 176.77,491.00 172.66,494.16 174.40,489.27 170.12,486.34 175.30,486.48" fill="#7a5a20"/>
<circle cx="176.77" cy="488.50" r="3.85" fill="#dd3322" stroke="#7a5a20" stroke-width="0.9"/>
<text transform="translate(183.77,492.50) scale(1.05,1)" font-size="8.9" text-anchor="start" fill="#000">5:04pm</text>
<polygon points="253.35,481.50 254.81,486.48 260.00,486.34 255.72,489.27 257.46,494.16 253.35,491.00 249.23,494.16 250.97,489.27 246.69,486.34 251.88,486.48" fill="#7a5a20"/>
<circle cx="253.35" cy="488.50" r="3.85" fill="#dd3322" stroke="#7a5a20" stroke-width="0.9"/>
<text transform="translate(260.35,492.50) scale(1.05,1)" font-size="8.9" text-anchor="start" fill="#000">5:04pm</text>
<polygon points="329.92,481.50 331.39,486.48 336.57,486.34 332.29,489.27 334.03,494.16 329.92,491.00 325.80,494.16 327.54,489.27 323.26,486.34 328.45,486.48" fill="#7a5a20"/>
<circle cx="329.92" cy="488.50" r="3.85" fill="#dd3322" stroke="#7a5a20" stroke-width="0.9"/>
<text transform="translate(336.92,492.50) scale(1.05,1)" font-size="8.9" text-anchor="start" fill="#000">5:04pm</text>
<polygon points="406.49,481.50 407.96,486.48 413.15,486.34 408.87,489.27 410.60,494.16 406.49,491.00 402.37,494.16 404.11,489.27 399.83,486.34 405.02,486.48" fill="#7a5a20"/>
<circle cx="406.49" cy="488.50" r="3.85" fill="#dd3322" stroke="#7a5a20" stroke-width="0.9"/>
<text transform="translate(413.49,492.50) scale(1.05,1)" font-size="8.9" text-anchor="start" fill="#000">5:04pm</text>
<polygon points="483.06,481.50 484.53,486.48 489.72,486.34 485.44,489.27 487.18,494.16 483.06,491.00 478.95,494.16 480.68,489.27 476.40,486.34 481.59,486.48" fill="#7a5a20"/>
<circle cx="483.06" cy="488.50" r="3.85" fill="#dd3322" stroke="#7a5a20" stroke-width="0.9"/>
<text transform="translate(490.06,492.50) scale(1.05,1)" font-size="8.9" text-anchor="start" fill="#000">5:04pm</text>
<polygon points="559.69,481.50 561.16,486.48 566.34,486.34 562.06,489.27 563.80,494.16 559.69,491.00 555.57,494.16 557.31,489.27 553.03,486.34 558.22,486.48" fill="#7a5a20"/>
<circle cx="559.69" cy="488.50" r="3.85" fill="#dd3322" stroke="#7a5a20" stroke-width="0.9"/>
<text transform="translate(566.69,492.50) scale(1.05,1)" font-size="8.9" text-anchor="start" fill="#000">5:05pm</text>
<polygon points="636.26,481.50 637.73,486.48 642.92,486.34 638.64,489.27 640.37,494.16 636.26,491.00 632.14,494.16 633.88,489.27 629.60,486.34 634.79,486.48" fill="#7a5a20"/>
<circle cx="636.26" cy="488.50" r="3.85" fill="#dd3322" stroke="#7a5a20" stroke-width="0.9"/>
<text transform="translate(643.26,492.50) scale(1.05,1)" font-size="8.9" text-anchor="start" fill="#000">5:05pm</text>
<circle cx="97.97" cy="501.8" r="4.9" fill="#ffffc8" stroke="#888" stroke-width="1"/>
<text transform="translate(104.37,506.00) scale(1.05,1)" font-size="8.9" text-anchor="start" fill="#000">4:22pm</text>
<circle cx="177.78" cy="501.8" r="4.9" fill="#ffffc8" stroke="#888" stroke-width="1"/>
<text transform="translate(184.18,506.00) scale(1.05,1)" font-size="8.9" text-anchor="start" fill="#000">5:23pm</text>
<circle cx="257.81" cy="501.8" r="4.9" fill="#ffffc8" stroke="#888" stroke-width="1"/>
<text transform="translate(264.21,506.00) scale(1.05,1)" font-size="8.9" text-anchor="start" fill="#000">6:28pm</text>
<circle cx="337.95" cy="501.8" r="4.9" fill="#ffffc8" stroke="#888" stroke-width="1"/>
<text transform="translate(344.35,506.00) scale(1.05,1)" font-size="8.9" text-anchor="start" fill="#000">7:35pm</text>
<circle cx="417.98" cy="501.8" r="4.9" fill="#ffffc8" stroke="#888" stroke-width="1"/>
<text transform="translate(424.38,506.00) scale(1.05,1)" font-size="8.9" text-anchor="start" fill="#000">8:40pm</text>
<circle cx="497.90" cy="501.8" r="4.9" fill="#ffffc8" stroke="#888" stroke-width="1"/>
<text transform="translate(504.30,506.00) scale(1.05,1)" font-size="8.9" text-anchor="start" fill="#000">9:43pm</text>
<circle cx="577.66" cy="501.8" r="4.9" fill="#ffffc8" stroke="#888" stroke-width="1"/>
<text transform="translate(584.06,506.00) scale(1.05,1)" font-size="8.9" text-anchor="start" fill="#000">10:43pm</text>
<circle cx="657.42" cy="501.8" r="4.9" fill="#ffffc8" stroke="#888" stroke-width="1"/>
<text transform="translate(663.82,506.00) scale(1.05,1)" font-size="8.9" text-anchor="start" fill="#000">11:43pm</text>
<circle cx="147.53" cy="515.6" r="4.9" fill="#c9c5b8" stroke="#777" stroke-width="1"/>
<text transform="translate(154.13,518.90) scale(1.05,1)" font-size="8.9" text-anchor="start" fill="#000">7:54am</text>
<circle cx="226.86" cy="515.6" r="4.9" fill="#c9c5b8" stroke="#777" stroke-width="1"/>
<text transform="translate(233.46,518.90) scale(1.05,1)" font-size="8.9" text-anchor="start" fill="#000">8:46am</text>
<circle cx="305.67" cy="515.6" r="4.9" fill="#c9c5b8" stroke="#777" stroke-width="1"/>
<text transform="translate(312.27,518.90) scale(1.05,1)" font-size="8.9" text-anchor="start" fill="#000">9:28am</text>
<circle cx="384.10" cy="515.6" r="4.9" fill="#c9c5b8" stroke="#777" stroke-width="1"/>
<text transform="translate(390.70,518.90) scale(1.05,1)" font-size="8.9" text-anchor="start" fill="#000">10:03am</text>
<circle cx="462.32" cy="515.6" r="4.9" fill="#c9c5b8" stroke="#777" stroke-width="1"/>
<text transform="translate(468.92,518.90) scale(1.05,1)" font-size="8.9" text-anchor="start" fill="#000">10:34am</text>
<circle cx="540.28" cy="515.6" r="4.9" fill="#c9c5b8" stroke="#777" stroke-width="1"/>
<text transform="translate(546.88,518.90) scale(1.05,1)" font-size="8.9" text-anchor="start" fill="#000">11:00am</text>
<circle cx="618.18" cy="515.6" r="4.9" fill="#c9c5b8" stroke="#777" stroke-width="1"/>
<text transform="translate(624.78,518.90) scale(1.05,1)" font-size="8.9" text-anchor="start" fill="#000">11:25am</text>
<circle cx="695.97" cy="515.6" r="4.9" fill="#c9c5b8" stroke="#777" stroke-width="1"/>
<text transform="translate(702.57,518.90) scale(1.05,1)" font-size="8.9" text-anchor="start" fill="#000">11:48am</text>
<text transform="translate(144.94,532.00) scale(1.05,1)" font-size="8.9" text-anchor="end" fill="#000">Full Moon</text>
<line x1="148.54" y1="526.4" x2="148.54" y2="534.6" stroke="#000" stroke-width="0.9"/>
<text transform="translate(151.84,532.00) scale(1.05,1)" font-size="8.9" text-anchor="start" fill="#000">8:13am</text>
</svg></body></html>
